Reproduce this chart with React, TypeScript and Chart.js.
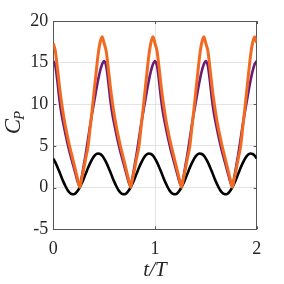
import React, { useEffect, useRef } from "react";
import { Chart, registerables } from "chart.js";

Chart.register(...registerables);

// sample times t/T (0 .. 2, step 0.02)
const tValues: number[] = Array.from({ length: 101 }, (_, i) => +(i * 0.02).toFixed(2));

const orangeCp: number[] = [
  17.3, 16.4, 14.4, 12.2, 10.3, 8.7, 7.3, 6.1, 5.0, 4.0, 3.0, 2.0, 1.0, 0.05, 1.1, 2.3, 3.6, 4.8, 6.9, 9.1, 11.4, 13.7, 15.9, 17.4, 18.1,
  17.3, 16.4, 14.4, 12.2, 10.3, 8.7, 7.3, 6.1, 5.0, 4.0, 3.0, 2.0, 1.0, 0.05, 1.1, 2.3, 3.6, 4.8, 6.9, 9.1, 11.4, 13.7, 15.9, 17.4, 18.1,
  17.3, 16.4, 14.4, 12.2, 10.3, 8.7, 7.3, 6.1, 5.0, 4.0, 3.0, 2.0, 1.0, 0.05, 1.1, 2.3, 3.6, 4.8, 6.9, 9.1, 11.4, 13.7, 15.9, 17.4, 18.1,
  17.3, 16.4, 14.4, 12.2, 10.3, 8.7, 7.3, 6.1, 5.0, 4.0, 3.0, 2.0, 1.0, 0.05, 1.1, 2.3, 3.6, 4.8, 6.9, 9.1, 11.4, 13.7, 15.9, 17.4, 18.1,
  17.4,
];

const purpleCp: number[] = [
  15.2, 14.6, 12.8, 10.6, 8.9, 7.6, 6.4, 5.3, 4.3, 3.4, 2.5, 1.6, 0.7, 0.2, 1.3, 2.7, 4.1, 5.7, 7.3, 8.8, 10.2, 11.6, 12.9, 14.0, 14.8,
  15.2, 14.6, 12.8, 10.6, 8.9, 7.6, 6.4, 5.3, 4.3, 3.4, 2.5, 1.6, 0.7, 0.2, 1.3, 2.7, 4.1, 5.7, 7.3, 8.8, 10.2, 11.6, 12.9, 14.0, 14.8,
  15.2, 14.6, 12.8, 10.6, 8.9, 7.6, 6.4, 5.3, 4.3, 3.4, 2.5, 1.6, 0.7, 0.2, 1.3, 2.7, 4.1, 5.7, 7.3, 8.8, 10.2, 11.6, 12.9, 14.0, 14.8,
  15.2, 14.6, 12.8, 10.6, 8.9, 7.6, 6.4, 5.3, 4.3, 3.4, 2.5, 1.6, 0.7, 0.2, 1.3, 2.7, 4.1, 5.7, 7.3, 8.8, 10.2, 11.6, 12.9, 14.0, 14.8,
  15.2,
];

const blackCp: number[] = [
  3.49, 3.04, 2.49, 1.9, 1.28, 0.69, 0.17, -0.29, -0.59, -0.77, -0.79, -0.66, -0.38, 0.02, 0.52, 1.1, 1.71, 2.32, 2.88, 3.37, 3.75, 4.0, 4.1, 4.04, 3.84,
  3.49, 3.04, 2.49, 1.9, 1.28, 0.69, 0.17, -0.29, -0.59, -0.77, -0.79, -0.66, -0.38, 0.02, 0.52, 1.1, 1.71, 2.32, 2.88, 3.37, 3.75, 4.0, 4.1, 4.04, 3.84,
  3.49, 3.04, 2.49, 1.9, 1.28, 0.69, 0.17, -0.29, -0.59, -0.77, -0.79, -0.66, -0.38, 0.02, 0.52, 1.1, 1.71, 2.32, 2.88, 3.37, 3.75, 4.0, 4.1, 4.04, 3.84,
  3.49, 3.04, 2.49, 1.9, 1.28, 0.69, 0.17, -0.29, -0.59, -0.77, -0.79, -0.66, -0.38, 0.02, 0.52, 1.1, 1.71, 2.32, 2.88, 3.37, 3.75, 4.0, 4.1, 4.04, 3.84,
  3.49,
];

const xTicks: number[] = [0, 1, 2];
const yTicks: number[] = [-5, 0, 5, 10, 15, 20];
const xTitle = "t/T";
const yTitleMain = "C";
const yTitleSub = "P";

const FONT = "'Liberation Serif', 'DejaVu Serif', serif";
const AXIS_COLOR = "#555555";

const framePlugin = {
  id: "frame",
  beforeDatasetsDraw(chart: any) {
    const { ctx, chartArea } = chart;
    const { left, right, top, bottom } = chartArea;
    const xs = chart.scales.x;
    const ys = chart.scales.y;
    ctx.save();
    ctx.strokeStyle = AXIS_COLOR;
    ctx.lineWidth = 1;
    ctx.strokeRect(Math.round(left) + 0.5, Math.round(top) + 0.5, Math.round(right - left), Math.round(bottom - top));
    const tl = 3;
    ctx.beginPath();
    xTicks.forEach((v) => {
      const px = Math.round(xs.getPixelForValue(v)) + 0.5;
      ctx.moveTo(px, bottom);
      ctx.lineTo(px, bottom - tl);
      ctx.moveTo(px, top);
      ctx.lineTo(px, top + tl);
    });
    yTicks.forEach((v) => {
      const py = Math.round(ys.getPixelForValue(v)) + 0.5;
      ctx.moveTo(left, py);
      ctx.lineTo(left + tl, py);
      ctx.moveTo(right, py);
      ctx.lineTo(right - tl, py);
    });
    ctx.stroke();
    ctx.restore();
  },
  afterDraw(chart: any) {
    const { ctx, chartArea } = chart;
    ctx.save();
    ctx.fillStyle = "#262626";
    ctx.font = `italic 21px ${FONT}`;
    ctx.textAlign = "center";
    ctx.textBaseline = "alphabetic";
    const cx = (chartArea.left + chartArea.right) / 2;
    ctx.fillText(xTitle, cx, 276);
    ctx.translate(20, 122);
    ctx.rotate(-Math.PI / 2);
    ctx.font = `italic 23px ${FONT}`;
    const wC = ctx.measureText(yTitleMain).width;
    ctx.font = `italic 15px ${FONT}`;
    const wP = ctx.measureText(yTitleSub).width;
    const total = wC + wP;
    ctx.textAlign = "left";
    ctx.font = `italic 23px ${FONT}`;
    ctx.fillText(yTitleMain, -total / 2, 0);
    ctx.font = `italic 15px ${FONT}`;
    ctx.fillText(yTitleSub, -total / 2 + wC - 1, 4);
    ctx.restore();
  },
};

export default function App() {
  const ref = useRef<HTMLCanvasElement | null>(null);
  useEffect(() => {
    if (!ref.current) return;
    const mk = (ys: number[]) => tValues.map((t, i) => ({ x: t, y: ys[i] }));
    const chart = new Chart(ref.current, {
      type: "line",
      data: {
        datasets: [
          { data: mk(orangeCp), borderColor: "#f26a21", borderWidth: 3, pointRadius: 0, cubicInterpolationMode: "monotone", fill: false },
          { data: mk(purpleCp), borderColor: "#6b1c74", borderWidth: 2.6, pointRadius: 0, cubicInterpolationMode: "monotone", fill: false },
          { data: mk(blackCp), borderColor: "#000000", borderWidth: 2.6, pointRadius: 0, cubicInterpolationMode: "monotone", fill: false },
        ],
      },
      options: {
        animation: false,
        responsive: false,
        events: [],
        layout: { padding: { top: 21, right: 27.3, left: 0, bottom: 0 } },
        plugins: { legend: { display: false }, tooltip: { enabled: false }, title: { display: false } },
        scales: {
          x: {
            type: "linear",
            min: 0,
            max: 2,
            afterBuildTicks: (s: any) => { s.ticks = xTicks.map((v) => ({ value: v })); },
            afterFit: (s: any) => { s.height = 54.7; },
            grid: { color: "#e4e4e4", lineWidth: 1, drawTicks: false },
            border: { display: false },
            ticks: { color: "#262626", font: { family: FONT, size: 18 }, padding: 9, maxRotation: 0, callback: (v: any) => String(v) },
          },
          y: {
            type: "linear",
            min: -5,
            max: 20,
            afterBuildTicks: (s: any) => { s.ticks = yTicks.map((v) => ({ value: v })); },
            afterFit: (s: any) => { s.width = 53.3; },
            grid: { color: "#e4e4e4", lineWidth: 1, drawTicks: false },
            border: { display: false },
            ticks: { color: "#262626", font: { family: FONT, size: 18 }, padding: 5, callback: (v: any) => String(v) },
          },
        },
      },
      plugins: [framePlugin],
    } as any);
    return () => chart.destroy();
  }, []);
  return (
    <div style={{ position: "absolute", left: 0, top: 0, width: 284, height: 284, background: "#fff" }}>
      <canvas ref={ref} width={284} height={284} />
    </div>
  );
}
